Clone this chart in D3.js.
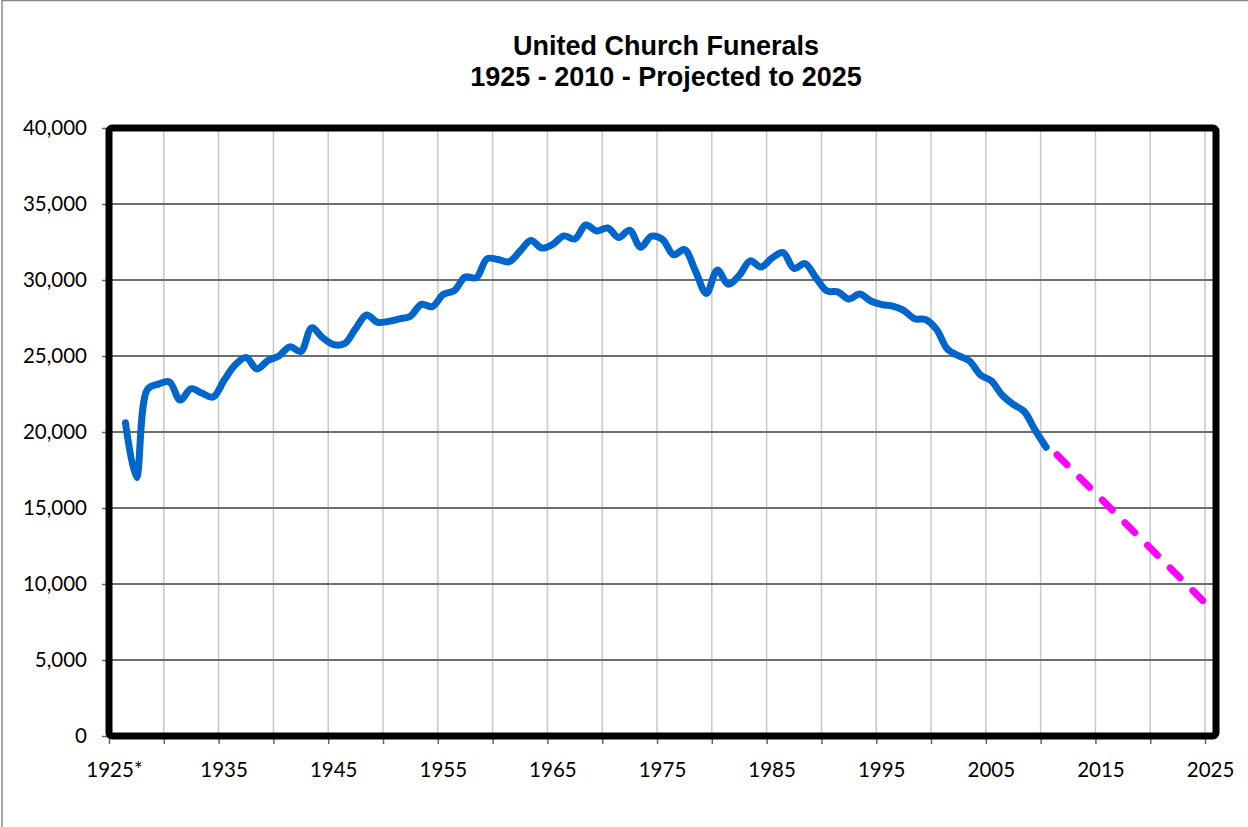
<!DOCTYPE html>
<html>
<head>
<meta charset="utf-8">
<script src="https://cdn.jsdelivr.net/npm/d3@7"></script>
<style>
  html, body { margin: 0; padding: 0; background: #fff; }
  svg { display: block; }
</style>
</head>
<body>
<svg id="chart" width="1248" height="827"></svg>
<script>
// ---------------- data ----------------
const titleLines = ["United Church Funerals", "1925 - 2010 - Projected to 2025"];

const categories = [1925,1926,1927,1928,1929,1930,1931,1932,1933,1934,1935,1936,1937,1938,1939,1940,
  1941,1942,1943,1944,1945,1946,1947,1948,1949,1950,1951,1952,1953,1954,1955,1956,1957,1958,1959,1960,
  1961,1962,1963,1964,1965,1966,1967,1968,1969,1970,1971,1972,1973,1974,1975,1976,1977,1978,1979,1980,
  1981,1982,1983,1984,1985,1986,1987,1988,1989,1990,1991,1992,1993,1994,1995,1996,1997,1998,1999,2000,
  2001,2002,2003,2004,2005,2006,2007,2008,2009,2010,2011,2012,2013,2014,2015,2016,2017,2018,2019,2020,
  2021,2022,2023,2024,2025];

const actualYears = [1926,1927,1928,1929,1930,1931,1932,1933,1934,1935,1936,1937,1938,1939,1940,
  1941,1942,1943,1944,1945,1946,1947,1948,1949,1950,1951,1952,1953,1954,1955,1956,1957,1958,1959,1960,
  1961,1962,1963,1964,1965,1966,1967,1968,1969,1970,1971,1972,1973,1974,1975,1976,1977,1978,1979,1980,
  1981,1982,1983,1984,1985,1986,1987,1988,1989,1990,1991,1992,1993,1994,1995,1996,1997,1998,1999,2000,
  2001,2002,2003,2004,2005,2006,2007,2008,2009,2010];

const actualFunerals = [20600,17000,22800,23150,23300,22100,22850,22550,22300,23400,24400,24900,24150,24700,25000,
  25600,25300,26850,26200,25750,25820,26800,27700,27220,27280,27440,27620,28400,28250,29050,29300,30200,30150,31400,31350,
  31200,31900,32600,32100,32350,32900,32700,33620,33230,33420,32800,33270,32150,32880,32680,31660,32000,30600,29120,30650,
  29720,30300,31260,30860,31450,31800,30760,31080,30150,29280,29220,28750,29080,28620,28380,28280,28000,27450,27400,26750,
  25450,25020,24680,23760,23360,22420,21820,21350,20120,19000];

const projYears = [2011, 2025];
const projFunerals = [18500, 8400];

const yTicks = [0,5000,10000,15000,20000,25000,30000,35000,40000];
const xLabelYears = [1925,1935,1945,1955,1965,1975,1985,1995,2005,2015,2025];
const xLabelText = ["1925*","1935","1945","1955","1965","1975","1985","1995","2005","2015","2025"];

// ---------------- layout ----------------
const svg = d3.select("#chart");
const L = 109, R = 1216, T = 128, B = 736;

const x = d3.scaleBand().domain(categories).range([L, R]).padding(0);
const xc = d => x(d) + x.bandwidth() / 2;
const xEdge = d3.scaleLinear().domain([0, categories.length]).range([L, R]);
const y = d3.scaleLinear().domain([0, 40000]).range([B, T]);

// outer chart-area border
svg.append("rect").attr("x", 2).attr("y", 0.5).attr("width", 1300).attr("height", 900)
  .attr("fill", "none").attr("stroke", "#8a8a8a").attr("stroke-width", 1.5);

// vertical gridlines (every 5 categories)
const vIdx = d3.range(5, categories.length, 5);
svg.append("g").selectAll("line").data(vIdx).join("line")
  .attr("x1", d => xEdge(d)).attr("x2", d => xEdge(d))
  .attr("y1", T).attr("y2", B)
  .attr("stroke", "#c8c8c8").attr("stroke-width", 1.5);

// horizontal gridlines
svg.append("g").selectAll("line").data(yTicks.slice(1, -1)).join("line")
  .attr("x1", L).attr("x2", R)
  .attr("y1", d => y(d)).attr("y2", d => y(d))
  .attr("stroke", "#6e6e6e").attr("stroke-width", 2);

// y axis
const yAxis = svg.append("g").attr("transform", `translate(${L},0)`)
  .call(d3.axisLeft(y).tickValues(yTicks).tickFormat(d3.format(",")).tickSize(7).tickPadding(15));
yAxis.select(".domain").remove();
yAxis.selectAll("line").attr("stroke", "#666").attr("stroke-width", 1.5);
yAxis.selectAll("text").attr("font-family", "Lato, 'Open Sans', sans-serif").attr("font-size", 20.5).attr("fill", "#000");

// x axis ticks at category boundaries
const xTickAxis = svg.append("g").attr("transform", `translate(0,${B})`)
  .call(d3.axisBottom(xEdge).tickValues(d3.range(0, categories.length + 1, 5)).tickSize(8).tickFormat(""));
xTickAxis.select(".domain").remove();
xTickAxis.selectAll("line").attr("stroke", "#666").attr("stroke-width", 1.5);

// x axis labels
const xLab = svg.append("g").attr("transform", `translate(0,${B})`)
  .call(d3.axisBottom(x).tickValues(xLabelYears).tickSize(0).tickPadding(26)
        .tickFormat(d => xLabelText[xLabelYears.indexOf(d)]));
xLab.select(".domain").remove();
xLab.selectAll("text").attr("font-family", "Lato, 'Open Sans', sans-serif").attr("font-size", 20.5).attr("fill", "#000");

// series
const line = d3.line().x(d => xc(d[0])).y(d => y(d[1])).curve(d3.curveCatmullRom.alpha(0.5));
const actual = actualYears.map((yr, i) => [yr, actualFunerals[i]]);
const proj = projYears.map((yr, i) => [yr, projFunerals[i]]);

svg.append("path").datum(actual).attr("d", line)
  .attr("fill", "none").attr("stroke", "#0066CC").attr("stroke-width", 7)
  .attr("stroke-linejoin", "round").attr("stroke-linecap", "round");

svg.append("path").datum(proj).attr("d", d3.line().x(d => xc(d[0])).y(d => y(d[1])))
  .attr("fill", "none").attr("stroke", "#FF00FF").attr("stroke-width", 7)
  .attr("stroke-dasharray", "14 18").attr("stroke-linecap", "round");

// plot-area border
svg.append("rect").attr("x", L).attr("y", T).attr("width", R - L).attr("height", B - T)
  .attr("rx", 3).attr("fill", "none").attr("stroke", "#000").attr("stroke-width", 7);

// title
const title = svg.append("text").attr("text-anchor", "middle")
  .attr("font-family", "'Liberation Sans', Arial, sans-serif").attr("font-weight", "bold")
  .attr("font-size", 27).attr("fill", "#000");
titleLines.forEach((t, i) => {
  title.append("tspan").attr("x", 666).attr("y", 55 + i * 31).text(t);
});
</script>
</body>
</html>
